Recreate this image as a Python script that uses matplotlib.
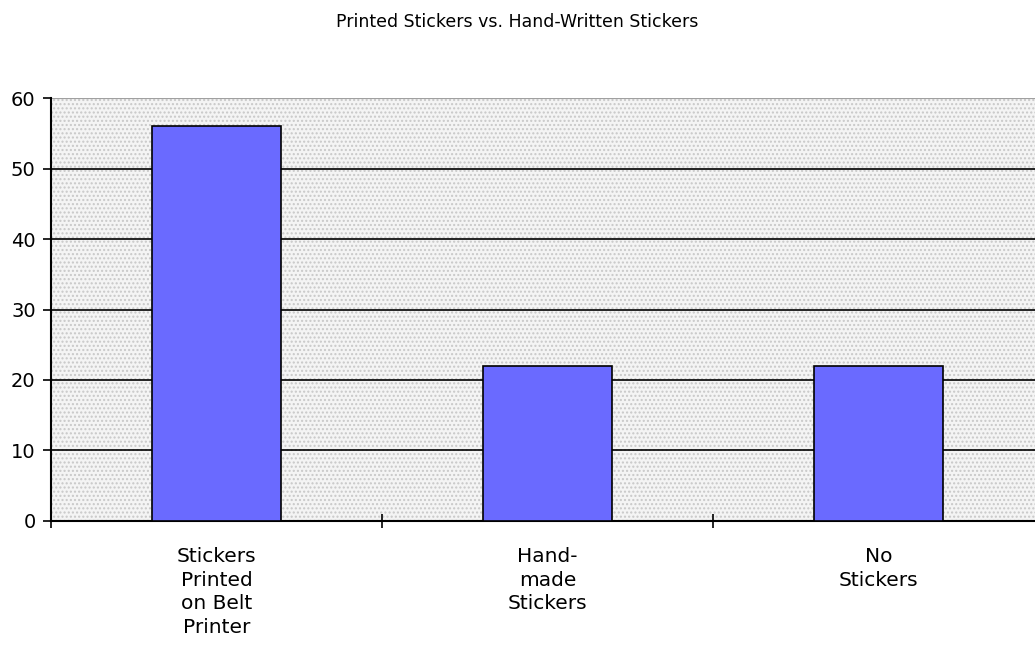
import matplotlib.pyplot as plt
from matplotlib.ticker import FixedLocator

categories = ["Stickers\nPrinted\non Belt\nPrinter", "Hand-\nmade\nStickers", "No\nStickers"]
counts = [56, 22, 22]
y_ticks = [0, 10, 20, 30, 40, 50, 60]
title = "Printed Stickers vs. Hand-Written Stickers"

plt.rcParams['font.family'] = ['DejaVu Sans']

fig = plt.figure(figsize=(10.35, 6.56), dpi=100)
ax = fig.add_axes([0.0493, 0.2058, 0.9594, 0.6448])

# dotted grey plot area
ax.set_facecolor('#f4f4f4')
bg = plt.Rectangle((-0.5, 0), 3, 60, facecolor='none', edgecolor='#c8c8c8',
                   hatch='....', linewidth=0, zorder=0)
ax.add_patch(bg)

x = range(len(categories))
ax.bar(x, counts, width=0.39, color='#6a6aff', edgecolor='black', linewidth=1.2, zorder=3)

for v in y_ticks[1:-1]:
    ax.axhline(v, color='black', linewidth=1.2, zorder=2)
ax.axhline(60, color='#a0a0a0', linewidth=1.5, zorder=2)

ax.set_xlim(-0.5, 2.5)
ax.set_ylim(0, 60)
ax.set_yticks(y_ticks)
ax.tick_params(axis='y', direction='out', length=6, width=1.2, labelsize=14, pad=5)

ax.xaxis.set_major_locator(FixedLocator([-0.5, 0.5, 1.5]))
ax.xaxis.set_major_formatter(plt.NullFormatter())
ax.xaxis.set_minor_locator(FixedLocator(list(x)))
ax.set_xticklabels(categories, minor=True, fontsize=14.5, linespacing=1.3)
ax.tick_params(axis='x', which='major', direction='inout', length=10, width=1.2)
ax.tick_params(axis='x', which='minor', length=0, pad=19)

for side in ['top', 'right']:
    ax.spines[side].set_visible(False)
ax.spines['left'].set_linewidth(1.5)
ax.spines['bottom'].set_linewidth(1.5)

fig.text(0.5, 0.966, title, ha='center', va='center', fontsize=12.5)

fig.savefig('out.png', dpi=100)
